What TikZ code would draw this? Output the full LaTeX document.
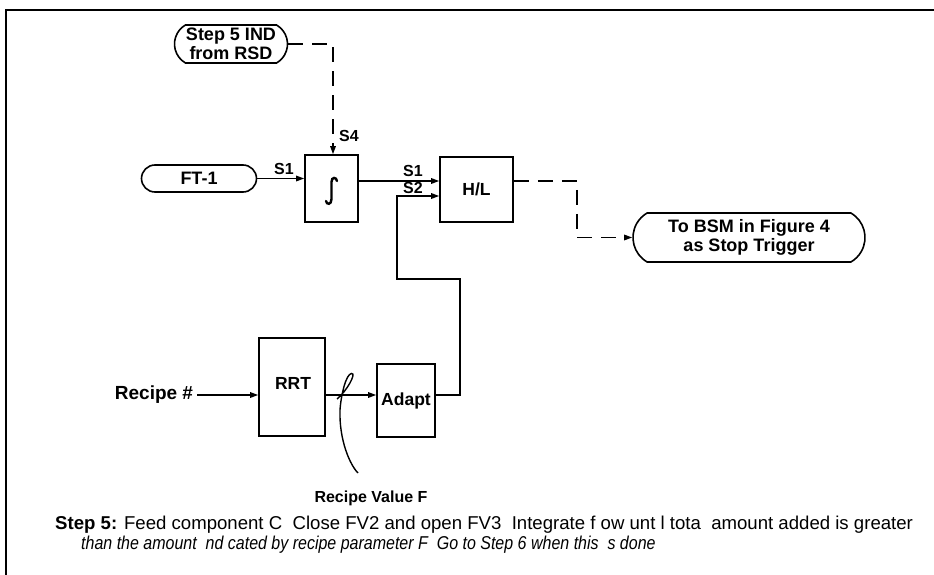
\documentclass[tikz,border=0pt]{standalone}
\usepackage{fontspec}
\usepackage{graphicx}
\setmainfont{Liberation Sans}
\usetikzlibrary{arrows.meta,shapes.misc,calc}
\begin{document}
\begin{tikzpicture}[x=1pt,y=-1pt,
  box/.style={draw,line width=1.6pt,inner sep=0pt,font=\fontsize{17.5}{19}\selectfont\bfseries},
  term/.style={draw,line width=1.6pt,rounded rectangle,inner sep=0pt,align=center,font=\fontsize{18}{19.5}\selectfont\bfseries},
  txt/.style={inner sep=0pt,font=\fontsize{17.5}{19}\selectfont\bfseries},
  lbl/.style={inner sep=0pt,font=\fontsize{16}{18}\selectfont\bfseries},
  conn/.style={line width=1.4pt,-{Triangle[length=8pt,width=5.5pt]}},
  dconn/.style={conn,dash pattern=on 15pt off 9pt},
]
\useasboundingbox (0,0) rectangle (934,575);
\draw[line width=1.4pt] (6,575) -- (6,10) -- (934,10);

% nodes
\node[term,rounded rectangle arc length=120,minimum width=113pt,minimum height=38pt] (rsd) at (231,44) {Step 5 IND\\from RSD};
\node[term,minimum width=115pt,minimum height=27pt] (ft) at (199,178.5) {FT-1};
\node[box,minimum width=53pt,minimum height=67pt] (integ) at (331.5,188.5) {};
\node[box,minimum width=73pt,minimum height=65pt] (hl) at (476.5,189.5) {H/L};
\node[term,rounded rectangle arc length=120,minimum width=232pt,minimum height=49pt] (bsm) at (749,237.5) {To BSM in Figure 4\\as Stop Trigger};
\node[box,minimum width=66pt,minimum height=98pt] (rrt) at (292,387) {};
\node[txt] (rrtt) at (293,383) {RRT};
\node[box,minimum width=58pt,minimum height=73pt] (adapt) at (406,400.5) {Adapt};
\node[txt,inner xsep=4pt,font=\fontsize{19}{21}\selectfont\bfseries] (recipe) at (154,395) {Recipe \#};
\node[txt,font=\fontsize{16}{18}\selectfont\bfseries] (rvf) at (371,498) {Recipe Value F};

% integral sign
\draw[line width=2.4pt,line cap=round] (337,181) .. controls (336.5,177) and (331.5,176.5) .. (331.5,182) -- (331.5,199) .. controls (331.5,205) and (326.5,205) .. (326,201);

% labels
\node[lbl] (s1a) at (284,169) {S1};
\node[lbl] (s4) at (349,136) {S4};
\node[lbl] (s1b) at (413,171) {S1};
\node[lbl] (s2) at (413,188) {S2};

% connectors
\coordinate (v1) at ([xshift=1.5pt]integ.north);
\draw[dconn] (rsd.east) -| (v1);
\draw[conn] (ft.east) -- (ft.east -| integ.west);
\coordinate (i1) at ([yshift=7.5pt]integ.east);
\draw[conn] (i1) -- (i1 -| hl.west);
\coordinate (a1) at ([yshift=5.5pt]adapt.east);
\coordinate (j1) at (460,279);
\coordinate (j2) at (397,279);
\coordinate (h2) at ([yshift=-6.5pt]hl.west);
\draw[conn] (a1) -| (j1) -- (j2) |- (h2);
\coordinate (h1) at ([yshift=8.5pt]hl.east);
\coordinate (k1) at (577,237.5);
\draw[dconn] (h1) -| (k1) -- (bsm.west);
\coordinate (r0) at ([yshift=-8pt]rrt.west);
\draw[conn] (r0 -| recipe.east) -- (r0);
\coordinate (r1) at ([yshift=-8pt]rrt.east);
\draw[conn] (r1) -- (r1 -| adapt.west);

% cursive value tag
\draw[line width=1.4pt] (337,399) .. controls (346,392) and (357,373) .. (351.5,373.5) .. controls (346,374) and (341,395) .. (340,410) .. controls (339,440) and (350,465) .. (358,473);

% caption
\node[anchor=base west,inner sep=0pt,font=\fontsize{18.6}{21}\selectfont] (cap1) at (55,529) {\textbf{Step 5:} Feed component C\ \ Close FV2 and open FV3\ \ Integrate f ow unt l tota\ \ amount added is greater};
\node[anchor=base west,inner sep=0pt,font=\fontsize{18.6}{21}\selectfont\itshape] (cap2) at (81,549) {\scalebox{0.86}[1]{than the amount\ \ nd cated by recipe parameter F\ \ Go to Step 6 when this\ \ s done}};
\end{tikzpicture}
\end{document}
